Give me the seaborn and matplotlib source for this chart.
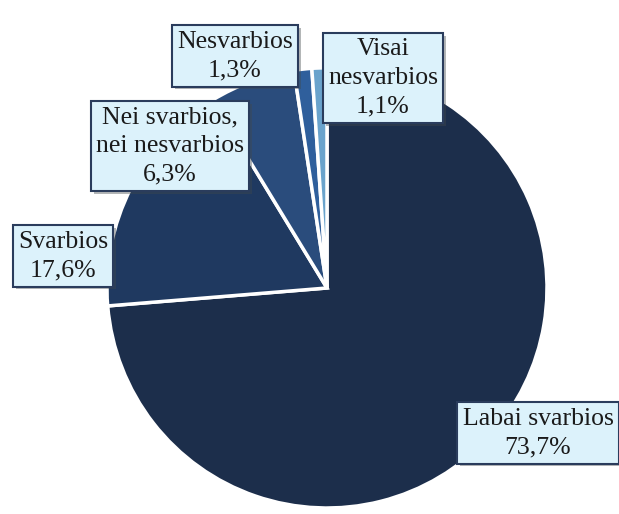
import matplotlib
matplotlib.use("Agg")
import matplotlib.pyplot as plt
import matplotlib.patheffects as pe
import seaborn as sns

categories = ["Labai svarbios", "Svarbios", "Nei svarbios,\nnei nesvarbios", "Nesvarbios", "Visai\nnesvarbios"]
values = [73.7, 17.6, 6.3, 1.3, 1.1]
value_labels = ["73,7%", "17,6%", "6,3%", "1,3%", "1,1%"]

sns.set_theme(style="white")
plt.rcParams["font.family"] = ["Liberation Serif", "DejaVu Serif"]

colors = ["#1c2e4b", "#1f3960", "#2a4c7c", "#2f5f9c", "#6aa3cc"]
explode = [0.0, 0.055, 0.07, 0.17, 0.17]

fig = plt.figure(figsize=(6.19, 5.14), dpi=100)
ax = fig.add_axes([0, 0, 1, 1])

cx, cy, r = 327, 514 - 288, 220
wedges, _ = ax.pie(values, colors=colors, explode=explode, startangle=90, counterclock=False,
                   center=(cx, cy), radius=r, frame=True,
                   wedgeprops=dict(edgecolor="white", linewidth=2.5))
ax.set_xlim(0, 619)
ax.set_ylim(0, 514)
ax.set_aspect("equal")
ax.axis("off")

label_pos = [(538, 433), (63, 256), (170, 146), (235, 56), (383, 78)]
for cat, vl, (px, py) in zip(categories, value_labels, label_pos):
    t = ax.text(px, 514 - py, f"{cat}\n{vl}", ha="center", va="center", fontsize=18.5,
                color="#1a1a1a", linespacing=1.4,
                bbox=dict(boxstyle="square,pad=0.2", facecolor="#dcf2fb",
                          edgecolor="#2a3c5c", linewidth=1.5))
    t.get_bbox_patch().set_path_effects([pe.SimplePatchShadow(offset=(2, -2), alpha=0.4), pe.Normal()])

fig.savefig("out.png", dpi=100)
